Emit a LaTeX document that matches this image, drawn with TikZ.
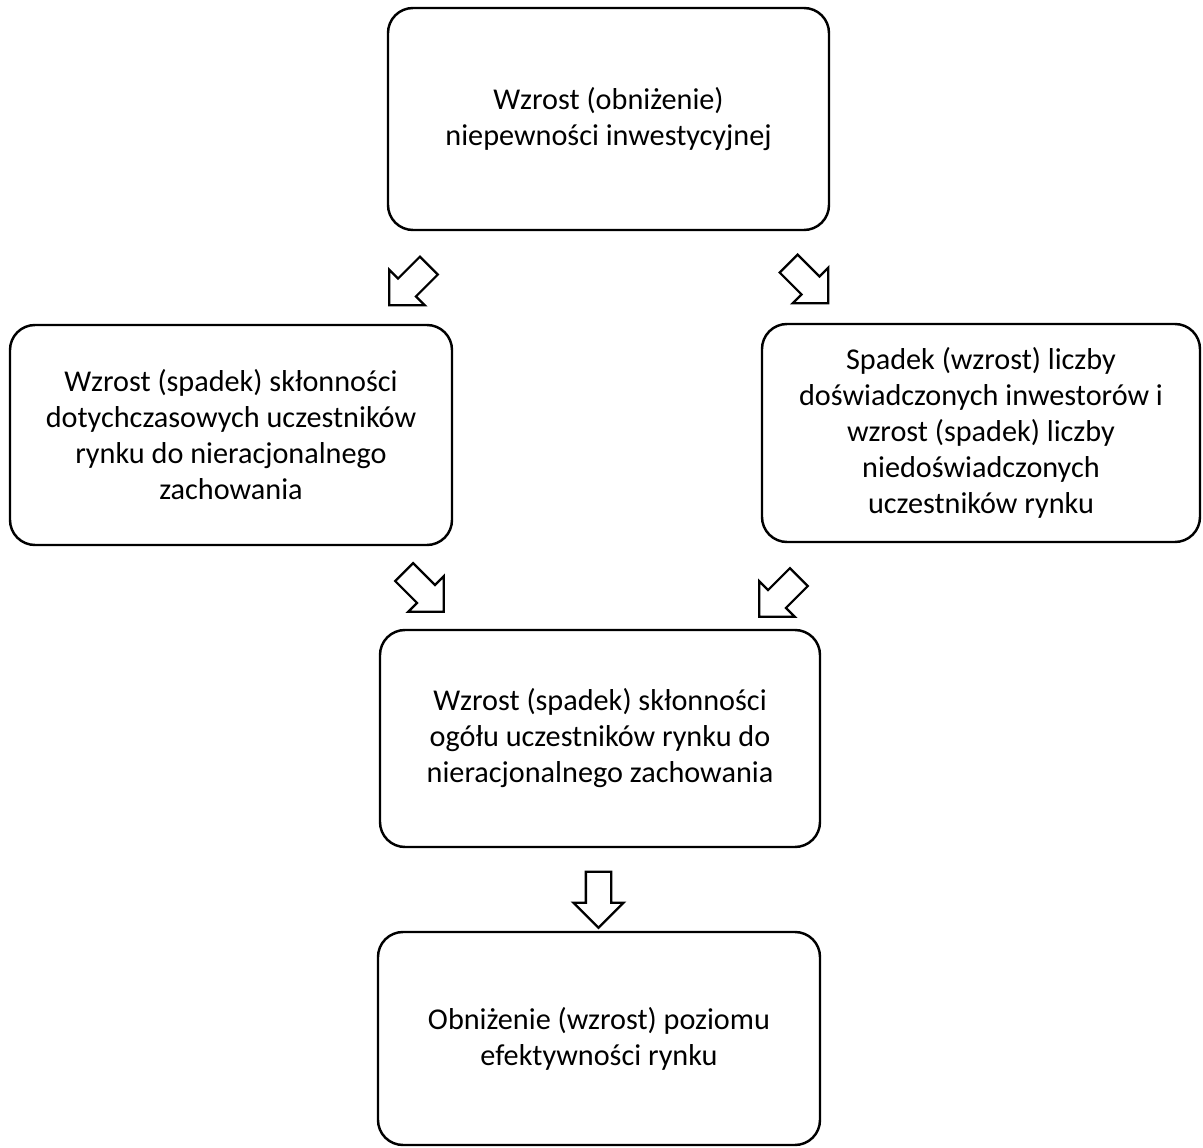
\documentclass[tikz,border=0pt]{standalone}
\usepackage{fontspec}
\setmainfont{Carlito}
\usetikzlibrary{shapes.arrows}
\tikzset{every path/.style={line width=1.4pt}}
\tikzset{box/.style={draw,rounded corners=0.5cm,align=center,font=\fontsize{17.2}{20.5}\selectfont},
  blockarrow/.style={draw,single arrow,single arrow head extend=0.25cm,minimum height=1.12cm,inner sep=0.23cm,line width=1.3pt}}

\begin{document}
\begin{tikzpicture}
\useasboundingbox (0,0) rectangle (24.06,-22.96);
\node[box,minimum width=8.82cm,minimum height=4.44cm] (top) at (12.17,-2.38) {Wzrost (obniżenie)\\niepewności inwestycyjnej};
\node[box,minimum width=8.84cm,minimum height=4.40cm] (left) at (4.62,-8.70) {Wzrost (spadek) skłonności\\dotychczasowych uczestników\\rynku do nieracjonalnego\\zachowania};
\node[box,minimum width=8.76cm,minimum height=4.36cm] (right) at (19.62,-8.66) {Spadek (wzrost) liczby\\doświadczonych inwestorów i\\wzrost (spadek) liczby\\niedoświadczonych\\uczestników rynku};
\node[box,minimum width=8.80cm,minimum height=4.34cm] (mid) at (12.00,-14.77) {Wzrost (spadek) skłonności\\ogółu uczestników rynku do\\nieracjonalnego zachowania};
\node[box,minimum width=8.84cm,minimum height=4.26cm] (bottom) at (11.98,-20.77) {Obniżenie (wzrost) poziomu\\efektywności rynku};
\node[blockarrow,rotate=225] (a1) at (8.27,-5.62) {};
\node[blockarrow,rotate=-45] (a2) at (16.08,-5.58) {};
\node[blockarrow,rotate=-45] (a3) at (8.39,-11.75) {};
\node[blockarrow,rotate=225] (a4) at (15.67,-11.85) {};
\node[blockarrow,rotate=270] (a5) at (11.97,-17.87) {};
\end{tikzpicture}
\end{document}
